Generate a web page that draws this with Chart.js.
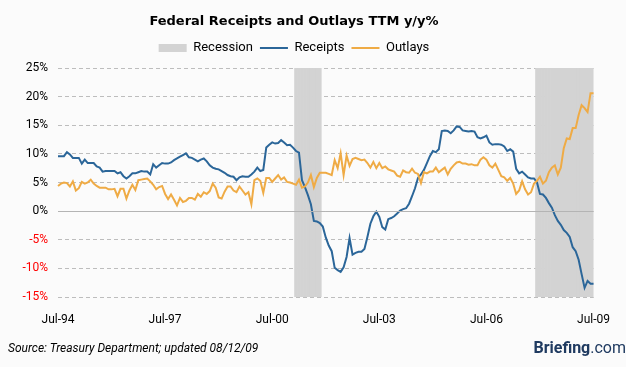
<!DOCTYPE html>
<html>
<head>
<meta charset="utf-8">
<title>Federal Receipts and Outlays TTM y/y%</title>
<script src="https://cdn.jsdelivr.net/npm/chart.js@4.4.1/dist/chart.umd.min.js"></script>
<style>
    body { margin: 0; background: #fbfbfb; }
    #wrap { position: relative; width: 626px; height: 367px; }
    #source { position: absolute; left: 8px; top: 341px; font: italic 12px Roboto; line-height: 14px; color: #000; }
    #brand { position: absolute; right: 0; top: 338px; font: bold 16px Roboto; line-height: 19px; color: #1f3a60; }
    #brand span { font-weight: normal; }
</style>
</head>
<body>
<div id="wrap">
    <canvas id="chart" width="626" height="367"></canvas>
    <div id="source">Source: Treasury Department; updated 08/12/09</div>
    <div id="brand">Briefing<span>.com</span></div>
</div>
<script>
// monthly, Jul-94 .. Jul-09
const tickLabels = ['Jul-94', 'Jul-97', 'Jul-00', 'Jul-03', 'Jul-06', 'Jul-09'];

const receipts = [
    9.6, 9.6, 9.6, 10.3, 9.9, 9.3, 9.3, 9.3, 8.3, 9.0,
    8.4, 8.4, 8.4, 7.8, 7.6, 6.9, 7.0, 7.0, 7.0, 7.0,
    6.6, 6.8, 6.1, 5.7, 6.1, 6.6, 6.6, 6.8, 7.0, 6.9,
    6.9, 6.4, 8.2, 7.6, 8.0, 8.4, 8.3, 8.3, 8.5, 8.9,
    9.2, 9.5, 9.8, 10.1, 9.4, 9.3, 9.0, 8.7, 9.0, 9.2,
    8.7, 8.0, 7.6, 7.4, 7.3, 7.0, 6.7, 6.3, 6.1, 6.0,
    5.4, 5.9, 6.1, 6.0, 6.0, 6.4, 6.9, 7.6, 7.0, 7.2,
    11.1, 11.6, 12.0, 11.8, 11.9, 12.4, 12.0, 11.5, 11.6, 11.1,
    10.5, 10.2, 5.4, 4.2, 2.8, 1.2, -1.7, -1.8, -2.1, -2.7,
    -4.6, -6.0, -7.0, -9.9, -10.3, -10.6, -9.8, -8.0, -4.7, -7.6,
    -7.3, -7.1, -7.1, -6.6, -4.5, -2.2, -0.9, -0.1, -1.0, -2.8,
    -3.2, -1.4, -1.2, -0.9, -0.4, 0.1, 0.35, 0.5, 1.3, 2.6,
    4.0, 5.8, 6.4, 7.2, 8.4, 9.6, 10.5, 10.3, 10.8, 14.0,
    14.1, 14.0, 13.6, 14.1, 14.8, 14.7, 14.1, 14.0, 13.9, 14.0,
    13.9, 12.9, 12.7, 12.9, 13.2, 12.0, 11.6, 11.7, 11.7, 11.6,
    11.3, 10.5, 10.8, 10.4, 7.4, 6.6, 6.9, 6.4, 5.9, 5.7,
    5.7, 5.0, 3.0, 2.9, 2.3, 1.4, 0.6, -0.7, -1.7, -2.4,
    -3.3, -3.8, -4.5, -6.3, -7.0, -8.5, -11.0, -13.4, -12.2, -12.7,
    -12.7
];

const outlays = [
    4.4, 4.8, 5.0, 4.9, 4.3, 5.2, 3.6, 4.0, 5.1, 4.8,
    5.0, 5.5, 4.8, 4.4, 4.1, 4.1, 4.1, 3.8, 3.8, 3.9,
    2.6, 3.9, 3.9, 2.2, 3.6, 4.6, 3.7, 5.4, 5.5, 5.6,
    5.7, 5.2, 4.6, 3.8, 4.2, 4.4, 3.0, 2.1, 2.9, 2.0,
    1.0, 2.3, 1.6, 1.8, 2.3, 2.3, 2.0, 3.0, 2.5, 3.3,
    3.0, 3.5, 4.8, 4.1, 2.4, 2.2, 3.4, 4.3, 4.3, 3.6,
    3.3, 4.3, 3.6, 2.9, 3.3, 1.2, 5.4, 5.7, 5.3, 3.2,
    5.8, 5.8, 5.1, 5.7, 6.3, 5.5, 5.9, 5.1, 5.0, 4.8,
    4.6, 5.5, 4.1, 4.3, 5.0, 6.3, 4.2, 5.8, 6.7, 6.7,
    6.7, 6.5, 6.3, 8.9, 7.5, 10.1, 6.3, 9.7, 7.9, 9.1,
    9.3, 9.1, 8.9, 9.0, 8.4, 7.6, 8.6, 7.5, 8.4, 7.5,
    7.8, 7.3, 7.1, 6.9, 6.2, 6.0, 7.1, 6.8, 6.7, 7.4,
    6.7, 6.5, 4.9, 6.8, 6.6, 6.9, 6.9, 7.6, 6.8, 7.2,
    7.6, 6.4, 7.4, 8.0, 8.5, 8.6, 8.3, 8.3, 8.1, 8.2,
    8.0, 8.0, 9.0, 9.4, 9.0, 8.0, 7.6, 8.3, 7.2, 6.1,
    5.9, 5.3, 5.8, 4.8, 3.0, 3.6, 5.2, 3.8, 2.9, 3.3,
    4.8, 5.3, 6.0, 4.8, 5.3, 6.8, 7.6, 8.0, 6.4, 7.6,
    11.0, 12.7, 12.6, 14.5, 14.5, 16.8, 18.5, 18.0, 17.3, 20.6,
    20.6
];

// first and last month of each recession
const recessions = [['Mar-01', 'Nov-01'], ['Dec-07', 'Jul-09']];

const yMin = -15;
const yMax = 25;

const monthNames = ['Jan', 'Feb', 'Mar', 'Apr', 'May', 'Jun', 'Jul', 'Aug', 'Sep', 'Oct', 'Nov', 'Dec'];
const months = [];
for (let i = 0; i < receipts.length; i++) {
    const m = 6 + i;
    const year = 1994 + Math.floor(m / 12);
    months.push(monthNames[m % 12] + '-' + String(year).slice(2));
}

const recessionBars = months.map((m, i) => {
    const inside = recessions.some(([from, to]) => i >= months.indexOf(from) && i <= months.indexOf(to));
    return inside ? [yMin, yMax] : null;
});

// keeps title and legend centred over the left part, like the original
const headerShift = {
    id: 'headerShift',
    afterLayout(chart) {
        chart.titleBlock.right = 588;
        chart.legend.right = 588;
    }
};

Chart.defaults.font.family = 'Roboto';
Chart.defaults.color = '#000';

const ctx = document.getElementById('chart');

new Chart(ctx, {
    type: 'line',
    data: {
        labels: months,
        datasets: [
            {
                type: 'bar',
                label: 'Recession',
                data: recessionBars,
                backgroundColor: '#d3d3d3',
                borderWidth: 0,
                barPercentage: 1,
                categoryPercentage: 1,
                pointStyle: 'rect',
                order: 3
            },
            {
                label: 'Receipts',
                data: receipts,
                borderColor: '#2b6699',
                backgroundColor: '#2b6699',
                borderWidth: 2,
                pointRadius: 0,
                pointBorderWidth: 2,
                pointStyle: 'line',
                tension: 0,
                order: 2
            },
            {
                label: 'Outlays',
                data: outlays,
                borderColor: '#efab45',
                backgroundColor: '#efab45',
                borderWidth: 2,
                pointRadius: 0,
                pointBorderWidth: 2,
                pointStyle: 'line',
                tension: 0,
                order: 1
            }
        ]
    },
    options: {
        responsive: false,
        animation: false,
        layout: {
            padding: { top: 0, right: 31, bottom: 40, left: 0 }
        },
        plugins: {
            title: {
                display: true,
                text: 'Federal Receipts and Outlays TTM y/y%',
                color: '#000',
                font: { family: 'DejaVu Sans', size: 13, weight: 'bold' },
                padding: { top: 14, bottom: 5 }
            },
            // empty spacer between the legend and the plot
            subtitle: {
                display: true,
                text: '',
                weight: 500,
                font: { size: 3.4, lineHeight: 1 },
                padding: 0
            },
            legend: {
                labels: {
                    usePointStyle: true,
                    pointStyleWidth: 28,
                    boxHeight: 8,
                    padding: 7,
                    color: '#000',
                    font: { family: 'Roboto', size: 13 },
                    sort: (a, b) => a.datasetIndex - b.datasetIndex
                }
            },
            tooltip: { enabled: false }
        },
        scales: {
            x: {
                offset: false,
                grid: { display: false, drawTicks: false },
                border: { display: false },
                ticks: {
                    autoSkip: false,
                    maxRotation: 0,
                    minRotation: 0,
                    padding: 16,
                    font: { size: 12 },
                    callback: function (value) {
                        const label = this.getLabelForValue(value);
                        return tickLabels.includes(label) ? label : null;
                    }
                },
                afterFit: scale => { scale.height = 30; }
            },
            y: {
                min: yMin,
                max: yMax,
                ticks: {
                    stepSize: 5,
                    padding: 10,
                    font: { size: 12 },
                    color: c => (c.tick && c.tick.value < 0) ? '#ff0000' : '#000',
                    callback: v => v + '%'
                },
                grid: {
                    drawTicks: false,
                    color: c => (c.tick && c.tick.value === 0) ? '#b4b4b4' : '#bdbdbd'
                },
                border: {
                    display: false,
                    dash: c => (c.tick && c.tick.value === 0) ? [] : [4, 3]
                },
                afterFit: scale => { scale.width = 58; }
            },
            // zero line and bottom line drawn above the recession shading
            y2: {
                position: 'left',
                min: yMin,
                max: yMax,
                ticks: { display: false, stepSize: 5 },
                grid: {
                    z: 1,
                    drawTicks: false,
                    color: c => {
                        if (!c.tick) return 'transparent';
                        if (c.tick.value === 0) return '#b4b4b4';
                        if (c.tick.value === yMin) return '#bdbdbd';
                        return 'transparent';
                    }
                },
                border: {
                    display: false,
                    dash: c => (c.tick && c.tick.value === 0) ? [] : [4, 3]
                }
            }
        }
    },
    plugins: [headerShift]
});
</script>
</body>
</html>
